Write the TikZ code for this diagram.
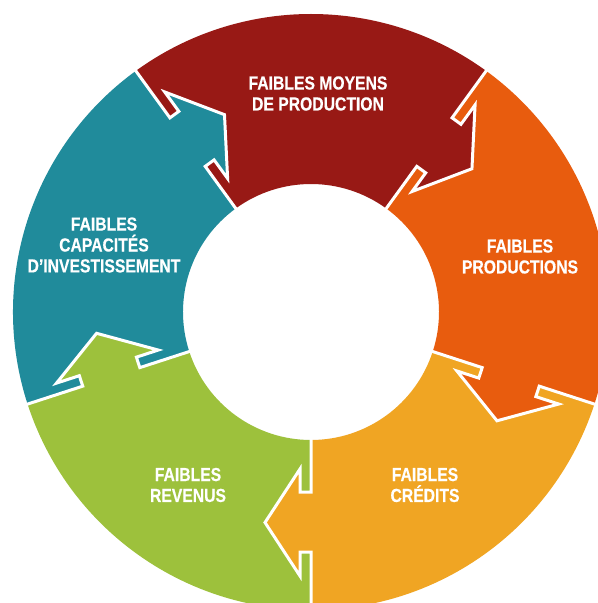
\documentclass[tikz,border=0pt]{standalone}
\usepackage{fontspec}
\newfontfamily\labelfont{Liberation Sans}[FakeStretch=0.83, BoldFeatures={FakeBold=0.35}]
\definecolor{mred}{HTML}{981915}
\definecolor{morange}{HTML}{E85C0E}
\definecolor{myellow}{HTML}{F0A523}
\definecolor{mgreen}{HTML}{9DC13C}
\definecolor{mteal}{HTML}{208B9B}
\begin{document}
\begin{tikzpicture}[x=1bp,y=1bp,
  seglabel/.style={text=white, font=\labelfont\bfseries\fontsize{19}{21}\selectfont,
                   align=center, inner sep=0pt},
  gap/.style={draw=white, line width=3bp, line join=miter}]
\def\Rout{298}
\def\Rin{128}
\useasboundingbox (-311,-291) rectangle (287,312);
\fill[white] (-311,-291) rectangle (287,312);
\begin{scope}
  \clip (-311,-291) rectangle (287,312);
  % ring sectors, 72 degrees each
  \foreach \a/\b/\c in {54/126/mred, -18/54/morange, -90/-18/myellow,
                        -162/-90/mgreen, 126/198/mteal}
    \fill[\c] (\a:\Rout) arc[start angle=\a, end angle=\b, radius=\Rout]
      -- (\b:\Rin) arc[start angle=\b, end angle=\a, radius=\Rin] -- cycle;
  % arrow tabs pushing clockwise into the next sector
  \foreach \t/\c in {126/mteal, 54/mred, -18/morange, -90/myellow, -162/mgreen}
    \fill[\c, rotate=\t] (180,1) -- (180,-11) -- (157,-11) -- (210.5,-46)
      -- (264,-11) -- (240,-11) -- (240,1) -- cycle;
  % white seams along each boundary and around each tab
  \foreach \t in {126,54,-18,-90,-162}
    \draw[gap, rotate=\t] (302,0) -- (240,0) -- (240,-11) -- (264,-11)
      -- (210.5,-46) -- (157,-11) -- (180,-11) -- (180,0) -- (124,0);
\end{scope}
% labels
\node[seglabel] (moyens) at (7,218.5) {FAIBLES MOYENS\\DE PRODUCTION};
\node[seglabel] (productions) at (209,55.5) {FAIBLES\\PRODUCTIONS};
\node[seglabel] (credits) at (114,-173) {FAIBLES\\CRÉDITS};
\node[seglabel] (revenus) at (-123,-173) {FAIBLES\\REVENUS};
\node[seglabel] (capacites) at (-207,67) {FAIBLES\\CAPACITÉS\\D’INVESTISSEMENT};
\end{tikzpicture}
\end{document}
